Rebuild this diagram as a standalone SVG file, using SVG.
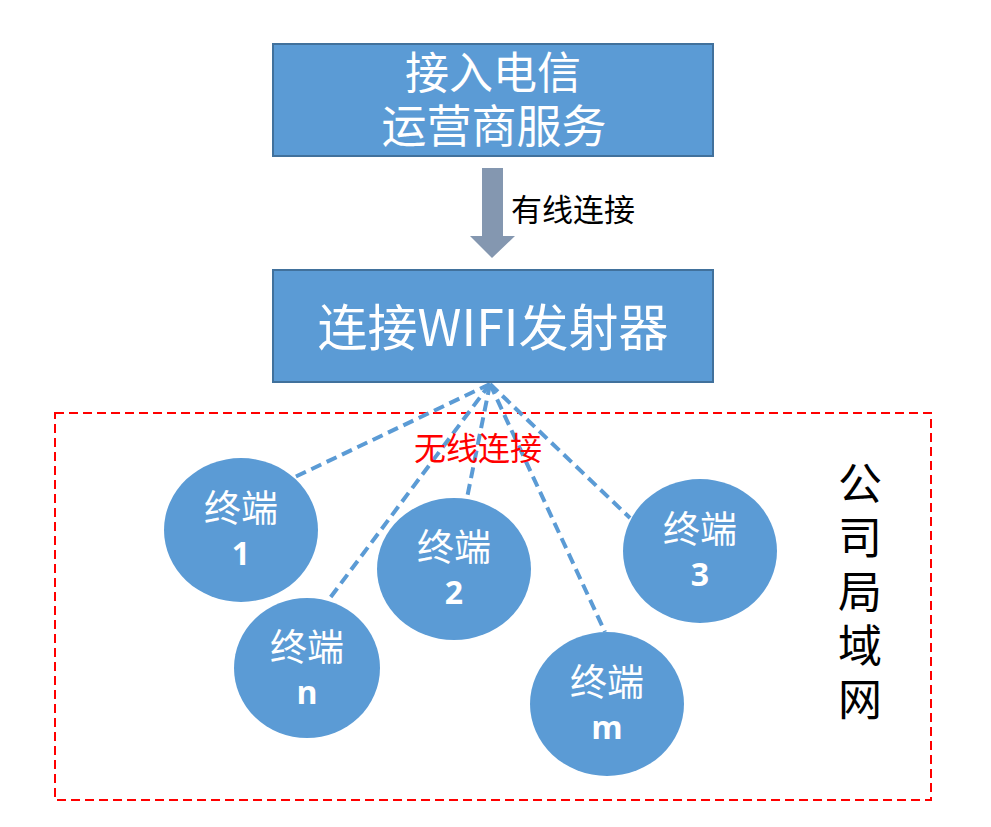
<svg xmlns="http://www.w3.org/2000/svg" width="991" height="827" viewBox="0 0 991 827">
<style>
.box{fill:#5B9BD5;stroke:#41719C;stroke-width:2}
.term{fill:#5B9BD5}
.wt{fill:#fff;font-family:"Noto Sans CJK SC","Open Sans",sans-serif;text-anchor:middle}
.num{fill:#fff;font-family:"Open Sans","Liberation Sans",sans-serif;font-weight:bold;font-size:32px;text-anchor:middle}
.tl{fill:#fff;font-family:"Noto Sans CJK SC",sans-serif;font-size:37px;text-anchor:middle}
.wire{stroke:#5B9BD5;stroke-width:4;stroke-dasharray:11 6;fill:none}
.blk{font-family:"Noto Sans CJK SC",sans-serif;fill:#000}
</style>
<rect width="991" height="827" fill="#fff"/>
<g id="lan">
<rect x="55" y="413" width="876" height="387" fill="none" stroke="#FF0000" stroke-width="2" stroke-dasharray="9 5"/>
<text x="860" y="461" class="blk" font-size="44" style="writing-mode:vertical-rl;letter-spacing:10px">公司局域网</text>
</g>
<g id="connectors">
<polygon points="482,168 503,168 503,236 515,236 492,258 470,236 482,236" fill="#8497B0"/>
<text x="511" y="221" class="blk" font-size="31">有线连接</text>
<line class="wire" x1="490" y1="384" x2="295" y2="477"/>
<line class="wire" x1="490" y1="384" x2="327" y2="602"/>
<line class="wire" x1="490" y1="384" x2="467" y2="498"/>
<line class="wire" x1="490" y1="384" x2="605" y2="632"/>
<line class="wire" x1="490" y1="384" x2="630" y2="518"/>
<text x="478" y="460" font-family="Noto Sans CJK SC,sans-serif" font-size="32" fill="#FF0000" text-anchor="middle">无线连接</text>
</g>
<g id="isp">
<rect class="box" x="273" y="44" width="440" height="112"/>
<text class="wt" font-size="44"><tspan x="493" y="89">接入电信</tspan><tspan x="494" y="143" font-size="45">运营商服务</tspan></text>
</g>
<g id="wifi">
<rect class="box" x="273" y="270" width="440" height="112"/>
<text class="wt" x="493" y="346" font-size="50">连接WIFI发射器</text>
</g>
<g id="t1">
<ellipse class="term" cx="241" cy="530" rx="77" ry="72"/>
<text class="tl" x="241" y="522">终端</text>
<text class="num" x="241" y="565">1</text>
</g>
<g id="tn">
<ellipse class="term" cx="307" cy="668" rx="73" ry="70"/>
<text class="tl" x="307" y="661">终端</text>
<text class="num" x="307" y="704">n</text>
</g>
<g id="t2">
<ellipse class="term" cx="454" cy="569" rx="77" ry="71"/>
<text class="tl" x="454" y="561">终端</text>
<text class="num" x="454" y="604">2</text>
</g>
<g id="t3">
<ellipse class="term" cx="700" cy="551" rx="77" ry="72"/>
<text class="tl" x="700" y="543">终端</text>
<text class="num" x="700" y="586">3</text>
</g>
<g id="tm">
<ellipse class="term" cx="607" cy="704" rx="77" ry="72"/>
<text class="tl" x="607" y="696">终端</text>
<text class="num" x="607" y="739">m</text>
</g>
</svg>
